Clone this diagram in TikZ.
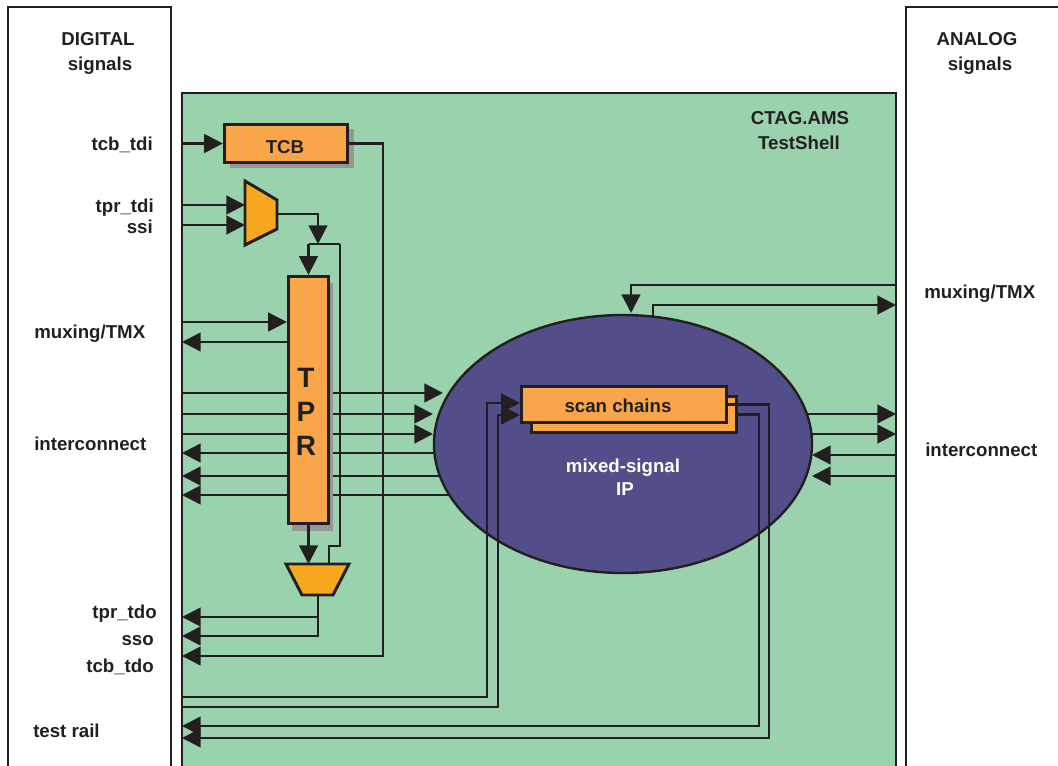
\documentclass[tikz,border=0pt]{standalone}
\usepackage{fontspec}
\setmainfont{Liberation Sans}
\usetikzlibrary{arrows.meta,shapes.geometric,shadows}
\definecolor{shell}{RGB}{153,210,173}
\definecolor{boxor}{RGB}{249,166,74}
\definecolor{muxor}{RGB}{247,168,30}
\definecolor{ipblue}{RGB}{82,78,138}
\definecolor{ink}{RGB}{35,31,32}
\definecolor{shad}{RGB}{150,150,150}
\begin{document}
\begin{tikzpicture}[x=0.75pt,y=-0.75pt,
  lbl/.style={font=\fontsize{14}{16}\selectfont\bfseries, text=ink, inner sep=0pt, anchor=base},
  lblw/.style={lbl, anchor=base west},
  lble/.style={lbl, anchor=base east},
  frame/.style={draw=ink, line width=1.8pt},
  wire/.style={draw=ink, line width=1.8pt},
  arr/.style={wire, -{Triangle[length=14pt,width=14pt]}},
  obox/.style={draw=ink, fill=boxor, line width=2.2pt, inner sep=0pt},
  muxs/.style={draw=ink, fill=muxor, line width=2.2pt, line join=miter},
  ipnode/.style={ellipse, draw=ink, fill=ipblue, line width=1.8pt, inner sep=0pt,
                 minimum width=283.5pt, minimum height=193.5pt},
]
\useasboundingbox (0,0) rectangle (1058,766);
\clip (0,0) rectangle (1058,766);

% panels
\draw[frame] (8,7) rectangle (171,800);
\draw[frame] (906,7) rectangle (1080,800);
\draw[frame, fill=shell] (182,93) rectangle (896,800);

% coordinates of free ends
\coordinate (lft) at (182,0);
\coordinate (ic1L) at (182,393); \coordinate (ic1R) at (443,393);
\coordinate (ic2L) at (182,414); \coordinate (ic2R) at (433,414);
\coordinate (ic3L) at (182,434); \coordinate (ic3R) at (433,434);
\coordinate (ic4L) at (182,453); \coordinate (ic4R) at (470,453);
\coordinate (ic5L) at (182,476); \coordinate (ic5R) at (470,476);
\coordinate (ic6L) at (182,495); \coordinate (ic6R) at (470,495);
\coordinate (ir1L) at (790,414); \coordinate (ir1R) at (896,414);
\coordinate (ir2L) at (790,434); \coordinate (ir2R) at (896,434);
\coordinate (ir3L) at (812,455); \coordinate (ir3R) at (896,455);
\coordinate (ir4L) at (812,476); \coordinate (ir4R) at (896,476);
\coordinate (mr1R) at (896,285); \coordinate (mr1T) at (631,313);
\coordinate (mr2B) at (653,330); \coordinate (mr2R) at (896,305);

% lines passing under the IP block
\draw[arr] (ic4R) -- (ic4L);
\draw[arr] (ic5R) -- (ic5L);
\draw[arr] (ic6R) -- (ic6L);
\draw[arr] (ir1L) -- (ir1R);
\draw[arr] (ir2L) -- (ir2R);
\draw[arr] (mr2B) |- (mr2R);

% mixed-signal IP
\node[ipnode] (ip) at (623,444) {};

\draw[arr] (ic1L) -- (ic1R);
\draw[arr] (ic2L) -- (ic2R);
\draw[arr] (ic3L) -- (ic3R);
\draw[arr] (ir3R) -- (ir3L);
\draw[arr] (ir4R) -- (ir4L);
\draw[arr] (mr1R) -| (mr1T);

% blocks
\node[obox, minimum width=92.5pt, minimum height=28.75pt,
      drop shadow={shadow xshift=4.5pt, shadow yshift=-3.75pt, fill=shad, opacity=1}] (tcb) at (286,143.5) {};
\node[obox, minimum width=30.25pt, minimum height=185.5pt,
      drop shadow={shadow xshift=3pt, shadow yshift=-5.25pt, fill=shad, opacity=1}] (tpr) at (308.5,400) {};
\draw[muxs] (245,181) -- (277,200) -- (277,229) -- (245,245) -- cycle;
\draw[muxs] (286,564) -- (349,564) -- (333,595) -- (302,595) -- cycle;
\node[obox, minimum width=154pt, minimum height=27.25pt] (scanb) at (634,414.5) {};
\node[obox, minimum width=154pt, minimum height=27.25pt] (scan) at (624,404.5) {};

% mux ports
\coordinate (m1a) at (245,205);
\coordinate (m1b) at (245,225);
\coordinate (m1o) at (277,214);
\coordinate (m2a) at (308.5,564);
\coordinate (m2b) at (329,564);
\coordinate (m2o) at (318,595);
\coordinate (split) at (318,244);
\coordinate (sl) at (308.5,244);
\coordinate (sr) at (340,244);
\coordinate (jog) at (329,546);
\coordinate (tdoL) at (182,617);
\coordinate (ssoL) at (182,636);
\coordinate (tcbc) at (383,656);
\coordinate (tcbL) at (182,656);
\coordinate (mxin) at (182,322);
\coordinate (mxout) at (182,342);
\coordinate (tr1L) at (182,697); \coordinate (tr1c) at (487,403);
\coordinate (tr2L) at (182,707); \coordinate (tr2c) at (498,415);
\coordinate (so1c) at (769,738); \coordinate (so1L) at (182,738);
\coordinate (so2c) at (759,726); \coordinate (so2L) at (182,726);

% connectors
\draw[arr] (lft |- tcb.west) -- (tcb.west);
\draw[arr] (lft |- m1a) -- (m1a);
\draw[arr] (lft |- m1b) -- (m1b);
\draw[arr] (m1o) -| (split);
\draw[wire] (sl) -- (sr);
\draw[arr] (sl) -- (tpr.north);
\draw[wire] (sr) |- (jog) -- (m2b);
\draw[arr] (tpr.south) -- (m2a);
\draw[arr] (m2o) |- (tdoL);
\draw[arr] (m2o) |- (ssoL);
\draw[arr] (tcb.east) -| (tcbc) -- (tcbL);
\draw[arr] (mxin) -- (tpr.west |- mxin);
\draw[arr] (tpr.west |- mxout) -- (mxout);
\draw[arr] (tr1L) -| (tr1c) -- (scan.west |- tr1c);
\draw[arr] (tr2L) -| (tr2c) -- (scan.west |- tr2c);
\draw[arr] (scan.east) -| (so1c) -- (so1L);
\draw[arr] (scanb.east) -| (so2c) -- (so2L);

% labels
\node[lbl] (tdig) at (98,46) {DIGITAL};
\node[lbl] (tdigs) at (100,71) {signals};
\node[lbl] (tana) at (977,46) {ANALOG};
\node[lbl] (tanas) at (980,71) {signals};
\node[lbl] (tctag) at (800,125) {CTAG.AMS};
\node[lbl] (tshell) at (799,150) {TestShell};
\node[lbl] (ttcb) at (285,154) {TCB};
\node[lbl, font=\fontsize{21}{25.5}\selectfont\bfseries, align=center, anchor=center] (ttpr) at (306,412) {T\\P\\R};
\node[lbl] (tscan) at (618,413) {scan chains};
\node[lbl, text=white] (tmix) at (623,473) {mixed-signal};
\node[lbl, text=white] (tip) at (625,496) {IP};
\node[lble] (ttcbtdi) at (153,151) {tcb\_tdi};
\node[lble] (ttprtdi) at (154,213) {tpr\_tdi};
\node[lble] (tssi) at (153,234) {ssi};
\node[lblw] (tmuxl) at (34,339) {muxing/TMX};
\node[lblw] (tintl) at (34,451) {interconnect};
\node[lble] (ttprtdo) at (157,619) {tpr\_tdo};
\node[lble] (tsso) at (154,646) {sso};
\node[lble] (ttcbtdo) at (154,672) {tcb\_tdo};
\node[lblw] (trail) at (33,738) {test rail};
\node[lblw] (tmuxr) at (924,299) {muxing/TMX};
\node[lblw] (tintr) at (925,457) {interconnect};
\end{tikzpicture}
\end{document}
